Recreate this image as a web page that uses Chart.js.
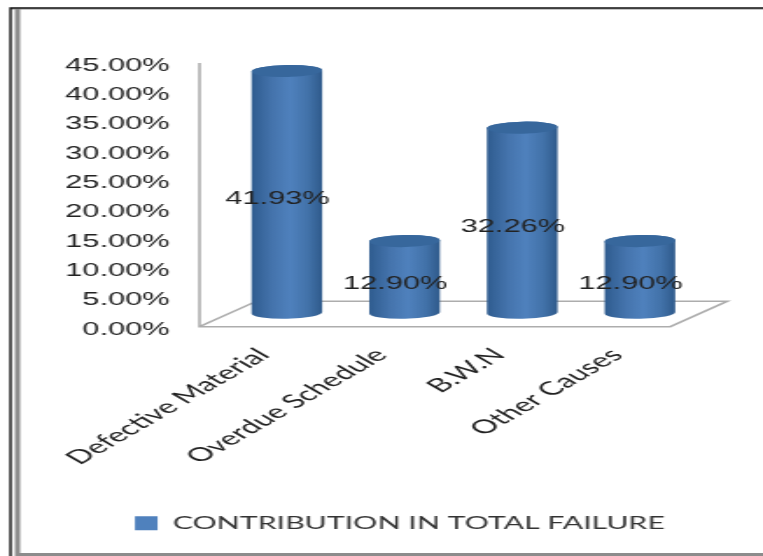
<!DOCTYPE html>
<html>
<head>
<meta charset="utf-8">
<script src="https://cdn.jsdelivr.net/npm/chart.js@4"></script>
<style>
    html, body { margin: 0; padding: 0; background: #fff; overflow: hidden; }
    /* the reference is a picture stretched sideways, so the canvas is too */
    #failureChart { position: absolute; left: 0; top: 0; transform-origin: 0 0; transform: scaleX(1.75); filter: blur(0.35px); }
</style>
</head>
<body>
<canvas id="failureChart" width="436" height="556"></canvas>
<script>
var causes = ['Defective Material', 'Overdue Schedule', 'B.W.N', 'Other Causes'];
var contribution = [41.93, 12.90, 32.26, 12.90];
var yMax = 45;
var yStep = 5;
var seriesName = 'CONTRIBUTION IN TOTAL FAILURE';

// depth of the fake 3d floor, canvas px
var depthX = 32.6;
var depthY = 25.5;

function drawFrame(ctx) {
    ctx.save();
    ctx.strokeStyle = '#8c8c8c';
    ctx.lineWidth = 3;
    ctx.beginPath();
    ctx.moveTo(10, 9);
    ctx.lineTo(10, 554.5);
    ctx.lineTo(436, 554.5);
    ctx.stroke();
    ctx.lineWidth = 1;
    ctx.beginPath();
    ctx.moveTo(6, 9);
    ctx.lineTo(436, 9);
    ctx.stroke();
    ctx.strokeStyle = '#111';
    ctx.lineWidth = 1.4;
    ctx.beginPath();
    ctx.moveTo(6, 556);
    ctx.lineTo(6, 8);
    ctx.lineTo(436, 8);
    ctx.stroke();
    ctx.restore();
}

function drawFloor(chart) {
    var ctx = chart.ctx;
    var area = chart.chartArea;
    var y0 = area.bottom - 3;
    ctx.save();
    ctx.strokeStyle = '#adadad';
    ctx.lineWidth = 1.6;
    ctx.beginPath();
    ctx.moveTo(area.left, area.top - 3);
    ctx.lineTo(area.left, y0);
    ctx.lineTo(area.right, y0);
    ctx.lineTo(area.right + depthX, y0 - depthY);
    ctx.lineTo(area.left + depthX, y0 - depthY);
    ctx.lineTo(area.left, y0);
    ctx.stroke();
    ctx.restore();
}

function drawCylinder(ctx, el) {
    var cx = el.x + depthX / 2;
    var rx = el.width / 2;
    var ry = 6;
    var tilt = -0.035;
    var top = el.y - 13;
    var bottom = el.base - 17;

    var grad = ctx.createLinearGradient(cx - rx, 0, cx + rx, 0);
    grad.addColorStop(0, '#2f5c8f');
    grad.addColorStop(0.3, '#4574ad');
    grad.addColorStop(0.55, '#4f81bd');
    grad.addColorStop(0.8, '#4272a9');
    grad.addColorStop(1, '#2f5a8b');

    ctx.save();
    ctx.fillStyle = grad;
    ctx.beginPath();
    ctx.ellipse(cx, top, rx, ry, tilt, Math.PI, 0);
    ctx.ellipse(cx, bottom, rx, ry, tilt, 0, Math.PI);
    ctx.closePath();
    ctx.fill();
    ctx.fillStyle = '#37679c';
    ctx.beginPath();
    ctx.ellipse(cx, top, rx, ry, tilt, 0, Math.PI * 2);
    ctx.fill();
    ctx.restore();
}

var fakeCylinders = {
    id: 'fakeCylinders',
    afterLayout: function (chart) {
        // legend sits right of the plot centre in the reference
        chart.legend.left += 27;
        chart.legend.right += 27;
        chart.legend.top += 2;
        chart.legend.bottom += 2;
    },
    beforeDraw: function (chart) {
        drawFrame(chart.ctx);
        drawFloor(chart);
    },
    // the flat bars stay in the chart, only their painting is replaced
    beforeDatasetDraw: function () {
        return false;
    },
    afterDatasetsDraw: function (chart) {
        var ctx = chart.ctx;
        var meta = chart.getDatasetMeta(0);
        meta.data.forEach(function (el) {
            drawCylinder(ctx, el);
        });
        ctx.save();
        ctx.fillStyle = '#222';
        ctx.font = '17.6px "Liberation Sans"';
        ctx.textAlign = 'center';
        ctx.textBaseline = 'middle';
        meta.data.forEach(function (el, i) {
            var text = contribution[i].toFixed(2) + '%';
            ctx.fillText(text, el.x + 11, (el.y + el.base) / 2 - 8);
        });
        ctx.restore();
    }
};

var ctx = document.getElementById('failureChart').getContext('2d');
var chart = new Chart(ctx, {
    type: 'bar',
    data: {
        labels: causes,
        datasets: [{
            label: seriesName,
            data: contribution,
            backgroundColor: '#4f81bd',
            barPercentage: 0.6,
            categoryPercentage: 1
        }]
    },
    options: {
        responsive: false,
        animation: false,
        layout: { padding: { left: 20, right: 53, top: 66, bottom: 16 } },
        plugins: {
            tooltip: { enabled: false },
            legend: {
                position: 'bottom',
                onClick: null,
                labels: {
                    boxWidth: 13,
                    boxHeight: 14,
                    padding: 10,
                    color: '#333',
                    font: { family: 'Lato', size: 17.3 }
                }
            }
        },
        scales: {
            x: {
                grid: { display: false },
                border: { display: false },
                afterFit: function (scale) { scale.height = 173; },
                ticks: {
                    autoSkip: false,
                    minRotation: 45,
                    maxRotation: 45,
                    padding: 6,
                    labelOffset: 3,
                    color: '#222',
                    font: { family: 'Lato', size: 19 }
                }
            },
            y: {
                min: 0,
                max: yMax,
                grid: { display: false },
                border: { display: false },
                afterFit: function (scale) { scale.width = 94; },
                ticks: {
                    stepSize: yStep,
                    padding: 9,
                    color: '#222',
                    font: { family: 'Liberation Sans', size: 17.6 },
                    callback: function (value) { return value.toFixed(2) + '%'; }
                }
            }
        }
    },
    plugins: [fakeCylinders]
});
</script>
</body>
</html>
